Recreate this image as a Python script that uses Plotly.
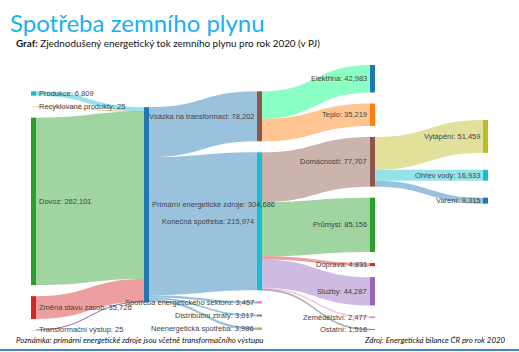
import plotly.graph_objects as go

# ---- data ----
node_names = [
    "Produkce", "Recyklované produkty", "Dovoz", "Změna stavu zásob", "Transformační výstup",
    "Primární energetické zdroje",
    "Vsázka na transformaci", "Konečná spotřeba", "Spotřeba energetického sektoru",
    "Distribuční ztráty", "Neenergetická spotřeba",
    "Elektřina", "Teplo", "Domácnosti", "Průmysl", "Doprava", "Služby", "Zemědělství", "Ostatní",
    "Vytápění", "Ohřev vody", "Vaření",
]
node_values = [
    6809, 25, 262101, 35726, 25,
    304686,
    78202, 215974, 3457, 3017, 3986,
    42983, 35219, 77707, 85156, 4831, 44287, 2477, 1516,
    51459, 16933, 9315,
]
link_source = ["Produkce", "Recyklované produkty", "Dovoz", "Změna stavu zásob", "Transformační výstup",
               "Primární energetické zdroje", "Primární energetické zdroje", "Primární energetické zdroje",
               "Primární energetické zdroje", "Primární energetické zdroje",
               "Vsázka na transformaci", "Vsázka na transformaci",
               "Konečná spotřeba", "Konečná spotřeba", "Konečná spotřeba", "Konečná spotřeba",
               "Konečná spotřeba", "Konečná spotřeba",
               "Domácnosti", "Domácnosti", "Domácnosti"]
link_target = ["Primární energetické zdroje"] * 5 + [
    "Vsázka na transformaci", "Konečná spotřeba", "Spotřeba energetického sektoru",
    "Distribuční ztráty", "Neenergetická spotřeba",
    "Elektřina", "Teplo",
    "Domácnosti", "Průmysl", "Doprava", "Služby", "Zemědělství", "Ostatní",
    "Vytápění", "Ohřev vody", "Vaření"]
link_values = [6809, 25, 262101, 35726, 25,
               78202, 215974, 3457, 3017, 3986,
               42983, 35219,
               77707, 85156, 4831, 44287, 2477, 1516,
               51459, 16933, 9315]

# ---- styles ----
node_colors = [
    "#17becf", "#ffbb78", "#2ca02c", "#d62728", "#c5b0d5",
    "#1f77b4",
    "#8c564b", "#17becf", "#e377c2", "#7f7f7f", "#bcbd22",
    "#1f77b4", "#ff7f0e", "#8c564b", "#2ca02c", "#d62728", "#9467bd", "#e377c2", "#7f7f7f",
    "#bcbd22", "#17becf", "#1f77b4",
]
link_colors = [
    "rgba(23,190,207,0.45)", "rgba(255,187,120,0.6)", "rgba(44,160,44,0.45)",
    "rgba(214,39,40,0.45)", "rgba(148,103,189,0.6)",
    "rgba(31,119,180,0.45)", "rgba(31,119,180,0.45)", "rgba(31,119,180,0.45)",
    "rgba(31,119,180,0.45)", "rgba(31,119,180,0.45)",
    "rgba(0,255,127,0.45)", "rgba(255,127,14,0.45)",
    "rgba(140,86,75,0.45)", "rgba(44,160,44,0.45)", "rgba(214,39,40,0.45)",
    "rgba(148,103,189,0.45)", "rgba(227,119,194,0.45)", "rgba(127,127,127,0.45)",
    "rgba(188,189,34,0.45)", "rgba(23,190,207,0.45)", "rgba(31,119,180,0.45)",
]

W, H = 519, 352
DOM_X = (31, 488)      # sankey domain in px (left, right)
DOM_Y = (65, 330)      # sankey domain in px (top, bottom)
PAD = 11
THICK = 5
GAP_LAST = 17
LABEL_FONT = dict(family="Liberation Sans, Arial", size=7.5, color="#444")

n = len(node_names)
idx = {nm: i for i, nm in enumerate(node_names)}
src = [idx[s] for s in link_source]
tgt = [idx[t] for t in link_target]
labels = [f"{nm}: {v:,}" for nm, v in zip(node_names, node_values)]

# depth of each node (left alignment)
depth = [0] * n
for _ in range(n):
    for s, t in zip(src, tgt):
        depth[t] = max(depth[t], depth[s] + 1)
ncol = max(depth) + 1
cols = [[i for i in range(n) if depth[i] == c] for c in range(ncol)]

Wd = DOM_X[1] - DOM_X[0]
Hd = DOM_Y[1] - DOM_Y[0]
ky = min((Hd - (len(c) - 1) * PAD) / sum(node_values[i] for i in c) for c in cols)
hgt = [v * ky for v in node_values]

center = [0.0] * n


def stack(col, top, gap):
    y = top
    for i in col:
        center[i] = y + hgt[i] / 2
        y += hgt[i] + gap


def col_height(col, gap):
    return sum(hgt[i] for i in col) + (len(col) - 1) * gap


# tallest column fills the domain from the top; columns 0 and 2 sit at the bottom
stack(cols[3], 0, PAD)
stack(cols[0], Hd - col_height(cols[0], PAD), PAD)
stack(cols[2], Hd - col_height(cols[2], PAD), PAD)
# middle column: centred between its weighted neighbours
for i in cols[1]:
    ins = [(center[s], v) for s, t, v in zip(src, tgt, link_values) if t == i]
    outs = [(center[t], v) for s, t, v in zip(src, tgt, link_values) if s == i]
    wi = sum(c * v for c, v in ins) / sum(v for _, v in ins)
    wo = sum(c * v for c, v in outs) / sum(v for _, v in outs)
    center[i] = (wi + wo) / 2
# last column centred on its source
parent = [s for s, t in zip(src, tgt) if t == cols[4][0]][0]
stack(cols[4], center[parent] - col_height(cols[4], GAP_LAST) / 2, GAP_LAST)

xcen = [(THICK / 2 + depth[i] * (Wd - THICK) / (ncol - 1)) for i in range(n)]
node_x = [x / Wd for x in xcen]
node_y = [c / Hd for c in center]

fig = go.Figure(go.Sankey(
    arrangement="fixed",
    domain=dict(x=[DOM_X[0] / W, DOM_X[1] / W], y=[1 - DOM_Y[1] / H, 1 - DOM_Y[0] / H]),
    node=dict(
        label=[""] * n,
        customdata=labels,
        hovertemplate="%{customdata}<extra></extra>",
        color=node_colors,
        pad=PAD,
        thickness=THICK,
        line=dict(width=0),
        align="left",
        x=node_x,
        y=node_y,
    ),
    link=dict(source=src, target=tgt, value=link_values, color=link_colors),
))

# node labels: right of node for the first two columns, left of node otherwise
for i in range(n):
    px = DOM_X[0] + xcen[i]
    py = DOM_Y[0] + center[i]
    if depth[i] <= 1:
        xa, xp = "left", px + THICK / 2 + 2
    else:
        xa, xp = "right", px - THICK / 2 - 2
    fig.add_annotation(text=labels[i], xref="paper", yref="paper", x=xp / W, y=1 - py / H,
                       xanchor=xa, yanchor="middle", showarrow=False, font=LABEL_FONT,
                       borderpad=0)

fig.add_annotation(text="Spotřeba zemního plynu", xref="paper", yref="paper",
                   x=8 / W, y=1 - 22 / H, xanchor="left", yanchor="middle", showarrow=False,
                   font=dict(family="Lato", size=24, color="#1CB0EE"))
fig.add_annotation(text="<b>Graf:</b> Zjednodušený energetický tok zemního plynu pro rok 2020 (v PJ)",
                   xref="paper", yref="paper", x=14 / W, y=1 - 43 / H, xanchor="left", yanchor="middle",
                   showarrow=False, font=dict(family="Lato", size=9.9, color="#111"))
fig.add_annotation(text="<i>Poznámka: primární energetické zdroje jsou včetně transformačního výstupu</i>",
                   xref="paper", yref="paper", x=14 / W, y=1 - 340 / H, xanchor="left", yanchor="middle",
                   showarrow=False, font=dict(family="Lato", size=7.9, color="#111"))
fig.add_annotation(text="<i>Zdroj: Energetická bilance ČR pro rok 2020</i>",
                   xref="paper", yref="paper", x=508 / W, y=1 - 340 / H, xanchor="right", yanchor="middle",
                   showarrow=False, font=dict(family="Lato", size=7.9, color="#111"))
fig.add_shape(type="line", xref="paper", yref="paper", x0=0, x1=1, y0=1 - 350 / H, y1=1 - 350 / H,
              line=dict(color="#4A86C5", width=2))

fig.update_layout(width=W, height=H, margin=dict(l=0, r=0, t=0, b=0),
                  paper_bgcolor="white", plot_bgcolor="white")
fig.write_html("out.html")
